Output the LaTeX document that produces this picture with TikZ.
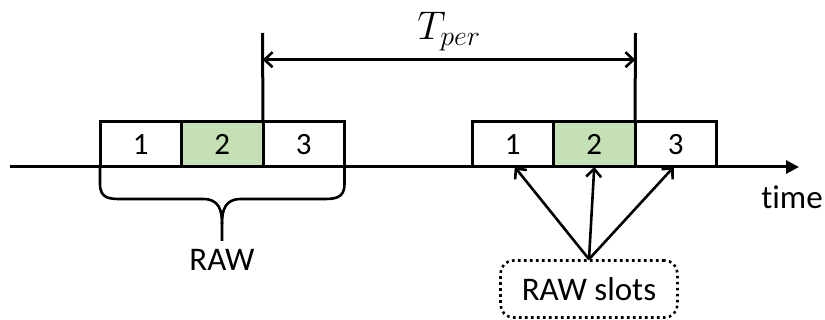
\documentclass[tikz,border=0pt]{standalone}
\usepackage{fix-cm}
\usepackage{fontspec}
\setmainfont{Carlito}[Ligatures=NoCommon]
\usepackage{tikz}
\usetikzlibrary{calc, positioning, arrows.meta}

\definecolor{slotgreen}{HTML}{C5E0B4}
\tikzset{
    slotbox/.style={draw, line width=3pt, outer sep=0pt, minimum width=81.5pt, minimum height=45pt, inner sep=0pt, font=\fontsize{31}{36}\selectfont},
    lbl/.style={font=\fontsize{33}{38}\selectfont, inner sep=0pt},
    dotbox/.style={draw, line width=2.6pt, dash pattern=on 2.6pt off 3.4pt, rounded corners=13pt, minimum width=177pt, minimum height=57pt, inner sep=0pt, font=\fontsize{33}{38}\selectfont},
    barb/.style={line width=2.6pt, -{Straight Barb[length=8pt,width=15pt]}}
}

\begin{document}
\begin{tikzpicture}[x=1pt, y=-1pt]
            \useasboundingbox (0,0) rectangle (825,320);
            % time axis
            \coordinate (t0) at (10,167);
            \coordinate (t1) at (799,167);
            \draw[line width=3pt, -{Triangle[length=13pt,width=13pt]}] (t0) -- (t1);
            \node[lbl] (time) at (792,197) {t\kern0pt ime};
            % first RAW
            \node[slotbox] (l1) at (140.75,144.5) {1};
            \node[slotbox, fill=slotgreen, right=0pt of l1] (l2) {2};
            \node[slotbox, right=0pt of l2] (l3) {3};
            % second RAW
            \node[slotbox] (r1) at (512.75,144.5) {1};
            \node[slotbox, fill=slotgreen, right=0pt of r1] (r2) {2};
            \node[slotbox, right=0pt of r2] (r3) {3};
            % period
            \coordinate (pa) at (262.5,33);
            \coordinate (pb) at (635.5,33);
            \draw[line width=3pt] (l3.north west) -- (pa);
            \draw[line width=3pt] (r3.north west) -- (pb);
            \draw[line width=2.6pt, {Straight Barb[length=8pt,width=15pt]}-{Straight Barb[length=8pt,width=15pt]}]
                ($(pa)!0.3!(l3.north west)$) -- ($(pb)!0.3!(r3.north west)$)
                node[midway, above=4pt, font=\fontsize{40}{44}\selectfont] (tper) {$T_{per}$};
            % brace
            \coordinate (tip) at (222,241);
            \draw[line width=2.6pt] (l1.south west) -- ++(0,17) .. controls ++(0,15) and (110,199) .. (122,199)
                -- (203,199) .. controls (219,199) and (222,210) .. (222,224) -- (tip);
            \draw[line width=2.6pt] (l3.south east) -- ++(0,17) .. controls ++(0,15) and (334,199) .. (322,199)
                -- (241,199) .. controls (225,199) and (222,210) .. (222,224);
            \node[lbl, below=8pt of tip] (raw) {RAW};
            % slot pointers
            \node[dotbox] (rs) at (589,289) {RAW slots};
            \draw[barb] (rs.north) -- ([xshift=2pt]r1.south);
            \draw[barb] (rs.north) -- (r2.south);
            \draw[barb] (rs.north) -- ([xshift=-2pt]r3.south);
        \end{tikzpicture}
\end{document}
